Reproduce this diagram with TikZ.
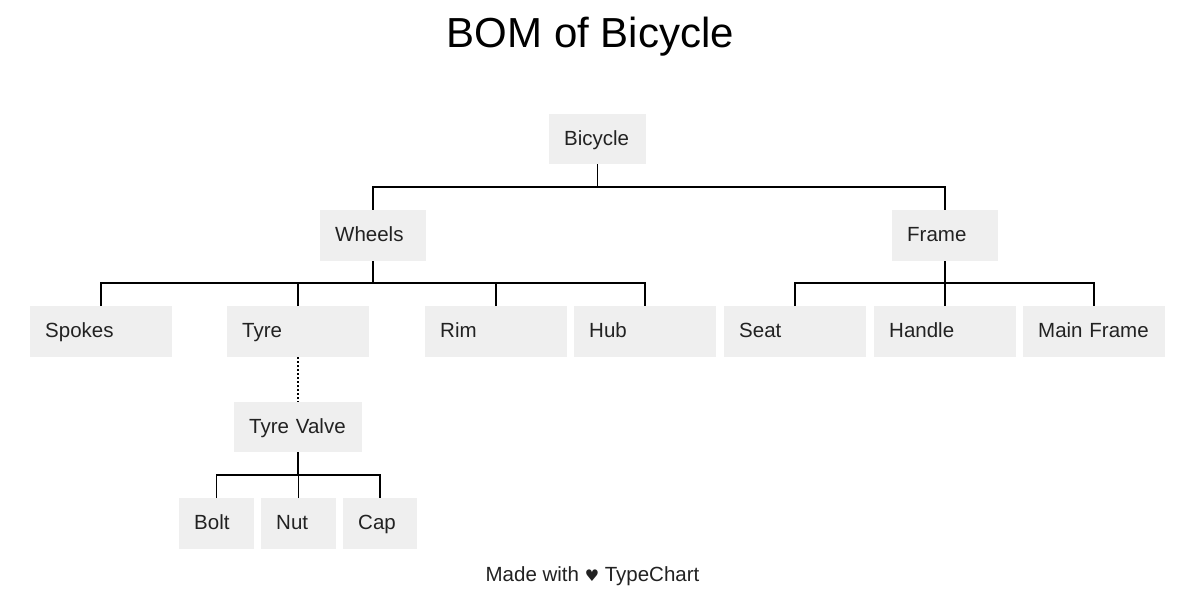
\documentclass[tikz,border=0pt]{standalone}
\usepackage{fontspec}
\setmainfont{Liberation Sans}
\newfontfamily\symfont{DejaVu Sans}
\definecolor{boxfill}{HTML}{EFEFEF}
\definecolor{txt}{HTML}{222222}
\begin{document}
\begin{tikzpicture}[x=1pt,y=-1pt,
  bomnode/.style={anchor=north west, fill=boxfill, draw=none, inner xsep=15pt, inner ysep=0pt,
    minimum height=51pt, text height=16pt, text depth=4pt, align=left, text=txt,
    font=\fontsize{20.5}{24}\selectfont},
  link/.style={draw=black, line width=1.5pt},
  dotlink/.style={draw=black, line width=1.5pt, dash pattern=on 2pt off 2pt}]
\useasboundingbox (0,0) rectangle (1195,615);
\fill[white] (0,0) rectangle (1195,615);

\node[anchor=base, font=\fontsize{42}{48}\selectfont, text=black] (title) at (590.5,48) {BOM of Bicycle};

\node[bomnode, text width=67pt, minimum height=50pt] (bicycle) at (549,114) {Bicycle};
\node[bomnode, text width=76pt] (wheels) at (320,210) {Wheels};
\node[bomnode, text width=76pt] (frame) at (892,210) {Frame};
\node[bomnode, text width=112pt] (spokes) at (30,306) {Spokes};
\node[bomnode, text width=112pt] (tyre) at (227,306) {Tyre};
\node[bomnode, text width=112pt] (rim) at (425,306) {Rim};
\node[bomnode, text width=112pt] (hub) at (574,306) {Hub};
\node[bomnode, text width=112pt] (seat) at (724,306) {Seat};
\node[bomnode, text width=112pt] (handle) at (874,306) {Handle};
\node[bomnode, text width=112pt] (mainframe) at (1023,306) {Main Frame};
\node[bomnode, text width=98pt, minimum height=50pt] (valve) at (234,402) {Tyre Valve};
\node[bomnode, text width=45pt] (bolt) at (179,498) {Bolt};
\node[bomnode, text width=45pt] (nut) at (261,498) {Nut};
\node[bomnode, text width=44pt] (cap) at (343,498) {Cap};

% level 1
\draw[link] (bicycle.south) -- (bicycle.south |- 0,187);
\draw[link] (wheels.north) -- (wheels.north |- 0,187) -- (frame.north |- 0,187) -- (frame.north);
% wheels children
\draw[link] (wheels.south) -- (wheels.south |- 0,283);
\draw[link] (spokes.north) -- (spokes.north |- 0,283) -- (hub.north |- 0,283) -- (hub.north);
\draw[link] (tyre.north) -- (tyre.north |- 0,283);
\draw[link] (rim.north) -- (rim.north |- 0,283);
% frame children
\draw[link] (frame.south) -- (frame.south |- 0,283);
\draw[link] (seat.north) -- (seat.north |- 0,283) -- (mainframe.north |- 0,283) -- (mainframe.north);
\draw[link] (handle.north) -- (handle.north |- 0,283);
% tyre valve
\draw[dotlink] (tyre.south) -- (valve.north);
\draw[link] (valve.south) -- (valve.south |- 0,475);
\draw[link] (bolt.north) -- (bolt.north |- 0,475) -- (cap.north |- 0,475) -- (cap.north);
\draw[link] (nut.north) -- (nut.north |- 0,475);

\node[anchor=base, font=\fontsize{20.5}{24}\selectfont, text=txt] (footer) at (592.5,581) {Made with {\symfont\fontsize{16}{20}\selectfont ♥} TypeChart};
\end{tikzpicture}
\end{document}
